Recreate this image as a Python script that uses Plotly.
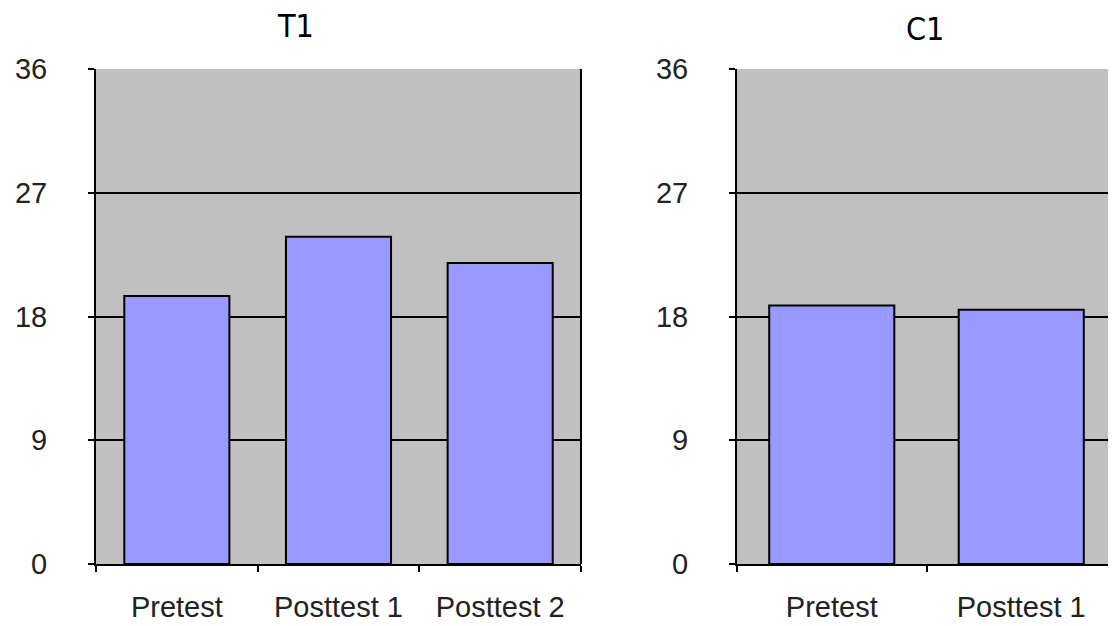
import plotly.graph_objects as go

# Data
t1_categories = ["Pretest", "Posttest 1", "Posttest 2"]
t1_values = [19.5, 23.8, 21.9]
c1_categories = ["Pretest", "Posttest 1"]
c1_values = [18.8, 18.5]
y_ticks = [0, 9, 18, 27, 36]
titles = ["T1", "C1"]

# page body has an 8px margin: figure is placed at (8, 8) in the window
OFF = 8
W, H = 1116 - OFF, 626 - OFF
bar_color = "#9999FF"
bg = "#C0C0C0"


def px_x(x):
    return (x - OFF) / W


def px_y(y):
    return 1 - (y - OFF) / H


fig = go.Figure()
fig.add_trace(go.Bar(x=t1_categories, y=t1_values, xaxis="x", yaxis="y",
                     marker=dict(color=bar_color, line=dict(color="black", width=2)),
                     width=0.65, showlegend=False, hoverinfo="x+y"))
fig.add_trace(go.Bar(x=c1_categories, y=c1_values, xaxis="x2", yaxis="y2",
                     marker=dict(color=bar_color, line=dict(color="black", width=2)),
                     width=0.66, showlegend=False, hoverinfo="x+y"))

ydom = [px_y(564), px_y(69)]
tick_font = dict(family="Liberation Sans, Arial, sans-serif", size=29, color="#222")


def xax(domain, anchor):
    return dict(domain=domain, anchor=anchor, type="category", automargin=False,
                showline=True, linecolor="black", linewidth=2, mirror=False,
                ticks="outside", tickson="boundaries", ticklen=6, tickcolor="black", tickwidth=2,
                showgrid=False, tickfont=tick_font, ticklabelstandoff=16, fixedrange=True)


def yax(anchor):
    return dict(domain=ydom, anchor=anchor, range=[0, 36], tickvals=y_ticks, automargin=False,
                showline=True, linecolor="black", linewidth=2,
                ticks="outside", ticklen=6, tickcolor="black", tickwidth=2,
                showgrid=True, gridcolor="black", gridwidth=2, zeroline=False,
                tickfont=tick_font, ticklabelstandoff=35, fixedrange=True)


fig.update_layout(
    template="none",
    width=W, height=H,
    margin=dict(l=0, r=0, t=0, b=0, pad=0),
    paper_bgcolor="white", plot_bgcolor=bg,
    bargap=0.35,
    xaxis=xax([px_x(96), px_x(581)], "y"),
    yaxis=yax("x"),
    xaxis2=xax([px_x(737), 1.0], "y2"),
    yaxis2=yax("x2"),
)

# right border of left panel
fig.add_shape(type="line", xref="paper", yref="paper", x0=px_x(581), x1=px_x(581),
              y0=ydom[0], y1=ydom[1], line=dict(color="black", width=2))

title_font = dict(family="DejaVu Sans Condensed, Liberation Sans Narrow, sans-serif", size=32, color="black")
fig.add_annotation(text=titles[0], xref="paper", yref="paper", x=px_x(295), y=px_y(26),
                   showarrow=False, font=title_font, xanchor="center", yanchor="middle")
fig.add_annotation(text=titles[1], xref="paper", yref="paper", x=px_x(925), y=px_y(29),
                   showarrow=False, font=title_font, xanchor="center", yanchor="middle")

fig.write_html("out.html")
